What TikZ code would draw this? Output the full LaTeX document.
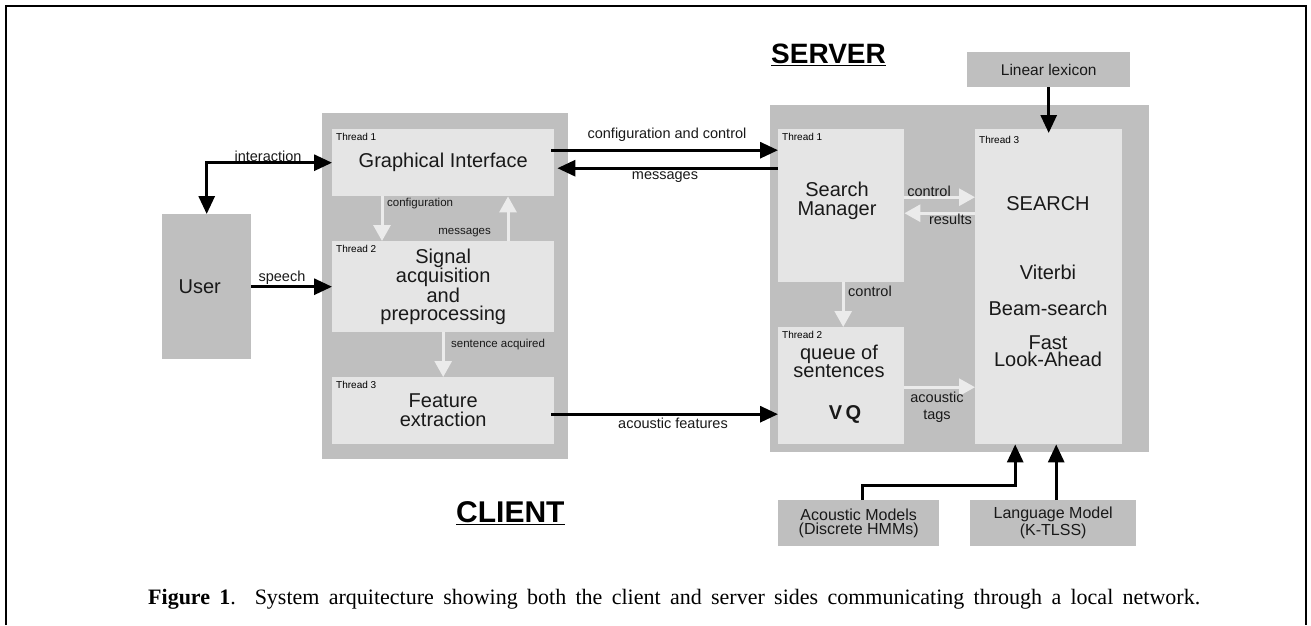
\documentclass[tikz,border=0pt]{standalone}
\usepackage{fontspec}
\setmainfont{Liberation Sans}
\newfontfamily\capfont{Liberation Serif}
\usetikzlibrary{arrows.meta}
\definecolor{outerg}{gray}{0.75}
\definecolor{innerg}{gray}{0.90}
\definecolor{lightarr}{gray}{0.92}
\definecolor{txt}{gray}{0.1}
\tikzset{
  outerbox/.style={fill=outerg, draw=none, inner sep=0pt, anchor=north west},
  innerbox/.style={fill=innerg, draw=none, inner sep=0pt, anchor=north west},
  thr/.style={anchor=north west, inner sep=0pt, xshift=4pt, yshift=-4pt, font=\fontsize{10}{12}\selectfont, text=black},
  big/.style={font=\fontsize{20}{18.5}\selectfont, text=txt, align=center},
  lbl/.style={font=\fontsize{14.5}{17}\selectfont, text=txt, inner sep=0pt},
  small/.style={font=\fontsize{11.5}{14}\selectfont, text=txt, inner sep=0pt},
  blk/.style={line width=3pt, draw=black, -{Triangle[length=18pt,width=16pt]}},
  blkboth/.style={line width=3pt, draw=black, {Triangle[length=18pt,width=16pt]}-{Triangle[length=18pt,width=16pt]}},
  lgt/.style={line width=3pt, draw=lightarr, -{Triangle[length=16pt,width=17pt]}},
  title/.style={font=\fontsize{28}{30}\selectfont\bfseries, text=black, inner sep=0pt, anchor=west},
}
\begin{document}
\begin{tikzpicture}[x=1pt,y=-1pt]
\useasboundingbox (0,0) rectangle (1311,625);
% frame
\draw[line width=2.5pt] (6,625) -- (6,6) -- (1306,6) -- (1306,625);

% ---------------- CLIENT ----------------
\node[outerbox, minimum width=246pt, minimum height=346pt] (client) at (322,113) {};
\node[innerbox, minimum width=222pt, minimum height=67pt, big,
      label={[thr]north west:Thread 1}] (gi) at (332,129) {Graphical Interface};
\node[innerbox, minimum width=222pt, minimum height=91pt, big, font=\fontsize{20}{18}\selectfont,
      label={[thr]north west:Thread 2}] (sig) at (332,241) {Signal\\acquisition\\and\\preprocessing};
\node[innerbox, minimum width=222pt, minimum height=67pt, big, font=\fontsize{20}{19}\selectfont,
      label={[thr]north west:Thread 3}] (fe) at (332,377) {Feature\\extraction};
\node[outerbox, minimum width=89pt, minimum height=145pt, big] (user) at (162,214) {User\hspace{14pt}};

\node[title, font=\fontsize{30}{32}\selectfont\bfseries] (clientlbl) at (456,513) {\underline{CLIENT}};

% client arrows
\draw[blkboth] (user.north) -- (user.north |- gi.west) -- (gi.west);
\node[lbl] (linter) at (268,156) {interaction};
\draw[blk] (user.east) -- (user.east -| sig.west);
\node[lbl] (lspeech) at (282,278) {speech};
\draw[lgt] ([xshift=50pt]gi.south west) -- ([xshift=50pt]sig.north west);
\node[small, anchor=west] (lconf) at (387,204) {configuration};
\draw[lgt] ([xshift=176pt]sig.north west) -- ([xshift=176pt]gi.south west);
\node[small, anchor=east] (lmsg) at (491,233) {messages};
\draw[lgt] (sig.south) -- (fe.north);
\node[small, anchor=west] (lsent) at (451,345) {sentence\hspace{3pt}acquired};

% ---------------- SERVER ----------------
\node[outerbox, minimum width=379pt, minimum height=347pt] (server) at (770,105) {};
\node[innerbox, minimum width=126pt, minimum height=153pt,
      label={[thr]north west:Thread 1}] (sm) at (778,129) {};
\node[big, font=\fontsize{20}{19}\selectfont] (smtxt) at (837,200.5) {Search\\Manager};
\node[innerbox, minimum width=126pt, minimum height=117pt,
      label={[thr]north west:Thread 2}] (vq) at (778,327) {};
\node[big, font=\fontsize{20}{16.5}\selectfont] (qtxt) at (839,361) {queue of\\sentences};
\node[big, font=\fontsize{20}{20}\selectfont\bfseries] (vqtxt) at (845,414) {V\,Q};
\node[innerbox, minimum width=147pt, minimum height=315pt,
      label={[thr, yshift=-3pt]north west:Thread 3}] (srch) at (975,129) {};
\node[big] (t1) at (1048,204) {SEARCH};
\node[big] (t2) at (1048,272) {Viterbi};
\node[big] (t3) at (1048,308) {Beam-search};
\node[big, font=\fontsize{20}{17.5}\selectfont] (t4) at (1048,351) {Fast\\Look-Ahead};

\node[title] (serverlbl) at (771,55) {\underline{SERVER}};

\node[outerbox, minimum width=163pt, minimum height=35pt, font=\fontsize{15.5}{18}\selectfont, text=txt] (lex) at (967,52) {Linear lexicon};
\node[outerbox, minimum width=161pt, minimum height=46pt, font=\fontsize{16}{14.5}\selectfont, text=txt, align=center] (am) at (778,500) {Acoustic Models\\(Discrete HMMs)};
\node[outerbox, minimum width=166pt, minimum height=46pt, font=\fontsize{16}{17}\selectfont, text=txt, align=center] (lm) at (970,500) {Language Model\\(K-TLSS)};

% server arrows
\draw[lgt] ([yshift=8.5pt]sm.east) -- ([yshift=8.5pt]sm.east -| srch.west);
\node[lbl] (lctl) at (929,191) {control};
\draw[lgt] ([yshift=-7.5pt]sm.east -| srch.west) -- ([yshift=-7.5pt]sm.east);
\node[lbl, anchor=east] (lres) at (972,219) {results};
\draw[lgt] ([xshift=2pt]sm.south) -- ([xshift=2pt]vq.north);
\node[lbl, anchor=west] (lctl2) at (848,291) {control};
\draw[lgt] ([yshift=-1.5pt]vq.east) -- ([yshift=-1.5pt]vq.east -| srch.west);
\node[lbl, align=center, font=\fontsize{14.5}{17}\selectfont] (ltags) at (937,407.5) {acoustic\\tags};
\draw[blk] (lex.south) -- ([yshift=-4pt]srch.north);
\draw[blk] ([xshift=3.5pt]am.north) -- ++(0,-15) -| ([xshift=-33.5pt]srch.south);
\draw[blk] ([xshift=3pt]lm.north) -- ([xshift=3pt]lm.north |- srch.south);

% client <-> server
\draw[blk, shorten <=-3pt] ([yshift=12.5pt]gi.east) -- ([yshift=12.5pt]gi.east -| sm.west);
\node[lbl] (lcc) at (667,135) {configuration and control};
\draw[blk, shorten >=3pt] ([yshift=-5.5pt]gi.east -| sm.west) -- ([yshift=-5.5pt]gi.east);
\node[lbl] (lmsg2) at (665,177) {messages};
\draw[blk, shorten <=-3pt] ([yshift=-3.5pt]fe.east) -- ([yshift=-3.5pt]fe.east -| vq.west);
\node[lbl] (lac) at (673,423) {acoustic features};

% caption
\node[anchor=base west, inner sep=0pt, font=\capfont\fontsize{22}{24}\selectfont] (cap) at (148,604)
  {\makebox[1052pt][s]{\textbf{Figure 1}. System arquitecture showing both the client and server sides communicating through a local network.}};
\end{tikzpicture}
\end{document}
